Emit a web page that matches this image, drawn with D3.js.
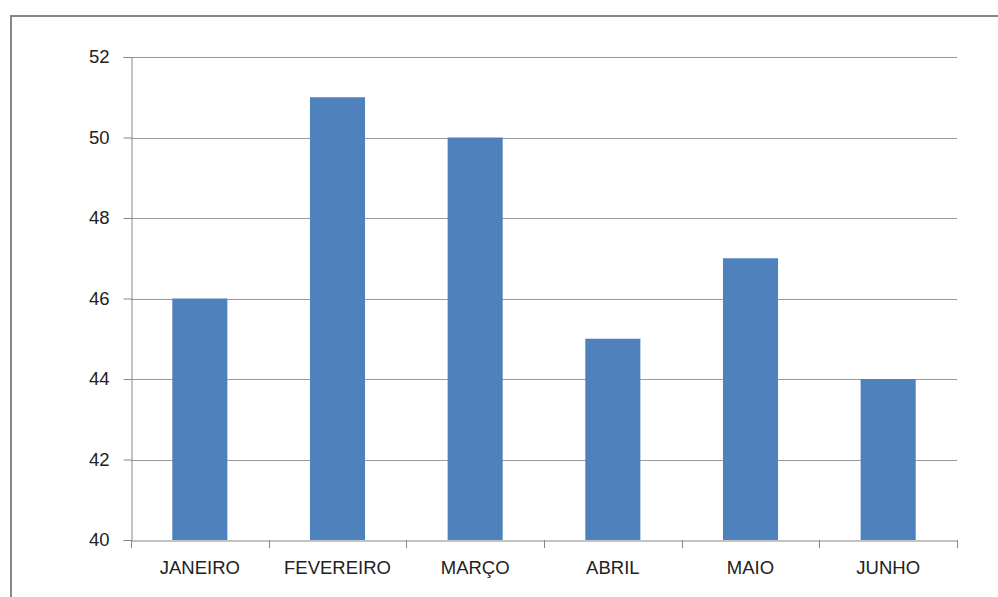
<!DOCTYPE html>
<html><head><meta charset="utf-8">
<script src="https://cdn.jsdelivr.net/npm/d3@7"></script>
<style>body{margin:0;background:#fff}svg{display:block}</style>
</head><body>
<script>
const categories = ["JANEIRO","FEVEREIRO","MARÇO","ABRIL","MAIO","JUNHO"];
const values = [46,51,50,45,47,44];
const yTicks = [40,42,44,46,48,50,52];

(function () {
const W = 998, H = 597;
const svg = d3.select("body").append("svg").attr("width", W).attr("height", H);
const font = "'Liberation Sans', Arial, sans-serif";

// outer frame
svg.append("rect").attr("x", 11).attr("y", 16).attr("width", 1100).attr("height", 700)
  .attr("fill", "none").attr("stroke", "#878787").attr("stroke-width", 2);

const mLeft = 131, mRight = 957, mTop = 57, mBottom = 540;
const x = d3.scaleBand().domain(categories).range([mLeft, mRight]).padding(0);
const y = d3.scaleLinear().domain([40, 52]).range([mBottom, mTop]);

// gridlines
svg.append("g").selectAll("line").data(yTicks.filter(t => t > 40)).join("line")
  .attr("x1", mLeft).attr("x2", mRight)
  .attr("y1", d => Math.round(y(d)) + 0.5).attr("y2", d => Math.round(y(d)) + 0.5)
  .attr("stroke", "#9a9a9a").attr("stroke-width", 1);

// bars
const bw = x.bandwidth() * 0.4;
svg.append("g").selectAll("rect").data(values).join("rect")
  .attr("x", (d, i) => x(categories[i]) + (x.bandwidth() - bw) / 2)
  .attr("width", bw)
  .attr("y", d => y(d))
  .attr("height", d => y(40) - y(d))
  .attr("fill", "#4F81BD");

// y axis
const yAxis = d3.axisLeft(y).tickValues(yTicks).tickSize(8).tickPadding(14).tickFormat(d3.format("d"));
const gy = svg.append("g").attr("transform", `translate(${mLeft + 0.5},0)`).call(yAxis);
gy.select(".domain").attr("stroke", "#878787");
gy.selectAll(".tick line").attr("stroke", "#878787");
gy.selectAll(".tick text").attr("font-family", font).attr("font-size", 18.5).attr("fill", "#222");

// x axis
const xAxis = d3.axisBottom(x).tickSize(0).tickPadding(20);
const gx = svg.append("g").attr("transform", `translate(0,${mBottom + 0.5})`).call(xAxis);
gx.select(".domain").attr("stroke", "#878787");
gx.selectAll(".tick text").attr("font-family", font).attr("font-size", 18.5).attr("fill", "#222");
// category boundary ticks
const bounds = categories.map(c => x(c)).concat([mRight]);
svg.append("g").selectAll("line").data(bounds).join("line")
  .attr("x1", d => Math.round(d) + 0.5).attr("x2", d => Math.round(d) + 0.5)
  .attr("y1", mBottom).attr("y2", mBottom + 8)
  .attr("stroke", "#878787");
})();
</script>
</body></html>
